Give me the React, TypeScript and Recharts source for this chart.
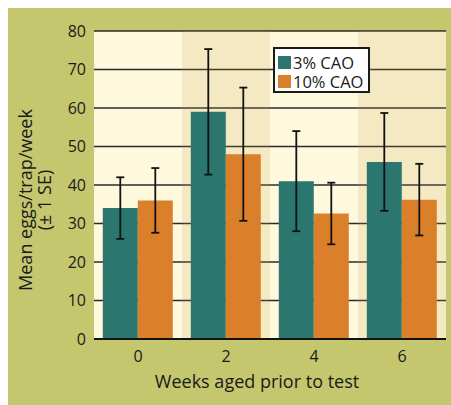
import React from 'react';
import { BarChart, Bar, XAxis, YAxis, CartesianGrid, ErrorBar, ReferenceArea } from 'recharts';

const weeks = ['0', '2', '4', '6'];
const shadedWeeks = ['2', '6'];
const cao3 = [34, 59, 41, 46];
const cao3Err = [8, 16.3, 13, 12.7];
const cao10 = [36, 48, 32.6, 36.2];
const cao10Err = [8.4, 17.3, 8, 9.3];
const yTicks = [0, 10, 20, 30, 40, 50, 60, 70, 80];
const seriesNames = ['3% CAO', '10% CAO'];

const data = weeks.map((w, i) => ({
  week: w,
  cao3: cao3[i],
  cao3Err: cao3Err[i],
  cao10: cao10[i],
  cao10Err: cao10Err[i],
}));

const FONT = '"Open Sans", sans-serif';
const TEAL = '#2b766f';
const ORANGE = '#da7f2a';
const COLORS = [TEAL, ORANGE];

const LegendBox = () => (
  <div
    style={{
      position: 'absolute',
      left: 265,
      top: 39,
      width: 97,
      height: 46,
      boxSizing: 'border-box',
      border: '2px solid #1a1a1a',
      background: '#ffffff',
      padding: '4px 0 0 3px',
      fontFamily: FONT,
      fontSize: 16.5,
      color: '#1a1a1a',
    }}
  >
    {seriesNames.map((t, i) => (
      <div key={t} style={{ display: 'flex', alignItems: 'center', height: 19, lineHeight: '19px', whiteSpace: 'nowrap' }}>
        <span style={{ display: 'inline-block', width: 13, height: 13, background: COLORS[i], marginRight: 2 }} />
        <span>{t}</span>
      </div>
    ))}
  </div>
);

const YLabel = (props: any) => {
  const vb = props.viewBox || { x: 0, y: 23, width: 86, height: 308 };
  const cy = vb.y + vb.height / 2 + 15;
  const x1 = 17;
  const x2 = 36;
  return (
    <g>
      <text
        x={x1}
        y={cy}
        transform={`rotate(-90, ${x1}, ${cy})`}
        textAnchor="middle"
        dominantBaseline="central"
        fontFamily={FONT}
        fontSize={18}
        fill="#1a1a1a"
      >
        Mean eggs/trap/week
      </text>
      <text
        x={x2}
        y={cy}
        transform={`rotate(-90, ${x2}, ${cy})`}
        textAnchor="middle"
        dominantBaseline="central"
        fontFamily={FONT}
        fontSize={18}
        fill="#1a1a1a"
      >
        (± 1 SE)
      </text>
    </g>
  );
};

export default function App() {
  return (
    <div
      style={{
        position: 'absolute',
        left: 8,
        top: 8,
        width: 443,
        height: 397,
        background: '#c4c76e',
        overflow: 'hidden',
      }}
    >
      <BarChart
        width={443}
        height={397}
        data={data}
        margin={{ top: 23, right: 5, left: 0, bottom: 0 }}
        barCategoryGap="10%"
        barGap={0}
      >
        <CartesianGrid
          vertical={false}
          horizontal={true}
          stroke="#2a2a2a"
          strokeWidth={1.6}
          strokeOpacity={1}
          fill="#fef9dd"
          fillOpacity={1}
        />
        {shadedWeeks.map((w) => (
          <ReferenceArea
            key={w}
            x1={w}
            x2={w}
            y1={0}
            y2={80}
            fill="#c89a50"
            fillOpacity={0.17}
            stroke="none"
            ifOverflow="hidden"
          />
        ))}
        <XAxis
          dataKey="week"
          tickLine={false}
          tickSize={0}
          tickMargin={12}
          height={66}
          axisLine={{ stroke: '#111', strokeWidth: 2 }}
          tick={{ fontFamily: FONT, fontSize: 16, fill: '#1a1a1a' }}
          label={{
            value: 'Weeks aged prior to test',
            position: 'center',
            dx: -13,
            dy: 10,
            style: { fontFamily: FONT, fontSize: 18, fill: '#1a1a1a' },
          }}
        />
        <YAxis
          domain={[0, 80]}
          ticks={yTicks}
          width={86}
          axisLine={false}
          tickLine={false}
          tickSize={0}
          tickMargin={8}
          interval={0}
          tick={{ fontFamily: FONT, fontSize: 16, fill: '#1a1a1a' }}
          label={<YLabel />}
        />
        <Bar dataKey="cao3" name={seriesNames[0]} fill={TEAL} isAnimationActive={false}>
          <ErrorBar dataKey="cao3Err" width={4} stroke="#111" strokeWidth={1.8} isAnimationActive={false} />
        </Bar>
        <Bar dataKey="cao10" name={seriesNames[1]} fill={ORANGE} isAnimationActive={false}>
          <ErrorBar dataKey="cao10Err" width={4} stroke="#111" strokeWidth={1.8} isAnimationActive={false} />
        </Bar>
      </BarChart>
      <LegendBox />
    </div>
  );
}
